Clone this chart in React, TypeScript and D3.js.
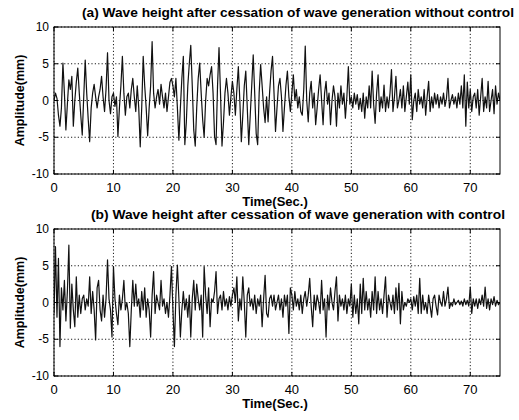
import React from "react";
import * as d3 from "d3";

// sampling interval of the recorded wave (seconds)
const TIME_STEP = 0.25;

// (a) wave height without control, mm, one value every 0.25 s (rows = 5 s)
const waveNoControl = [
  0.0, 1.0, 0.3, -2.0, -3.5, -1.0, 5.1, 1.0, -4.0, -0.5, 2.8, 1.5, 3.3, -3.5, 0.0, 2.5, 4.4, 1.0, -2.0, -4.7,
  0.5, 5.5, 1.0, -2.5, -5.6, -1.0, 1.0, 2.2, 0.5, -1.0, 0.5, 1.5, 3.3, 0.5, -1.5, 1.5, 6.5, 0.0, -1.8, 0.5,
  1.0, -0.8, 0.5, -4.9, -1.0, 2.0, 6.0, 1.0, -2.0, 0.5, 1.0, -1.0, 1.5, 3.0, 0.5, -1.5, 2.0, -1.0, -6.3, -1.0,
  6.0, 2.0, -1.0, -4.8, -1.0, 2.0, 8.0, 1.0, -1.0, 0.5, 1.5, -0.5, 2.2, 0.5, -1.0, 1.0, -1.5, 0.5, 2.5, 3.0,
  2.0, 0.5, 3.0, -1.0, -5.4, -1.0, 3.0, 6.0, -6.0, -3.0, 2.0, 5.0, 7.5, 2.0, -4.0, -6.2, -1.0, 3.0, 5.1, 1.0,
  -2.6, -5.0, 0.0, 3.0, 2.0, 3.5, 4.6, 1.0, -4.9, -6.0, 2.0, 7.2, 1.0, -6.2, -3.0, 1.0, 3.0, 1.0, -2.0, 0.5,
  2.6, 1.0, -2.0, 1.5, 4.6, 0.0, -5.6, -2.0, 2.0, 4.0, -1.0, -6.0, -2.0, 2.0, 6.2, 1.0, -4.5, -6.0, 1.0, 4.9,
  2.0, -1.0, -3.0, 0.5, -2.9, 1.0, 4.0, 6.0, 1.0, -4.2, -1.0, 2.0, 3.0, 0.5, -4.2, -1.0, 2.0, 4.0, 0.5, -1.5,
  1.0, 3.5, 0.0, 1.5, -1.0, 0.5, -1.5, -2.0, 1.5, 7.4, 0.0, -2.9, 1.0, 2.6, -1.0, 1.0, -3.3, -1.0, 1.5, 3.5,
  0.0, -3.3, 1.0, 2.6, -0.5, 1.0, -3.3, 0.0, 2.0, 0.5, -3.5, 1.0, -1.0, 2.0, -0.5, 1.0, -2.4, 0.5, 4.6, -0.5,
  0.5, -1.0, 1.0, -0.5, 0.8, -1.2, 0.3, -1.5, 1.0, -2.4, 0.5, -1.0, 2.0, -1.0, 4.0, -0.5, -3.1, 1.0, 3.5, -1.5,
  0.5, -1.0, 2.1, -1.5, 0.5, -1.0, 1.0, 4.2, -1.5, 0.5, 3.3, -1.0, 0.0, 1.5, -1.0, 2.0, -1.5, 0.5, 2.5, -0.5,
  3.5, -2.6, 0.0, 1.0, -1.5, 1.5, -0.5, 0.5, -1.0, 1.5, -2.0, 0.5, 2.6, -1.5, 0.5, -1.0, 1.0, -0.5, 0.8, -1.0,
  0.5, -0.5, 1.0, -0.8, 0.3, 3.0, -1.0, 0.0, 0.8, -0.5, 0.5, -1.0, 1.0, -0.5, 2.0, -1.0, 3.5, -3.5, 2.5, -1.0,
  1.5, -1.5, 0.5, 1.0, -1.0, 1.5, -2.0, 0.5, 3.0, -1.5, 0.5, -1.0, 2.6, -1.5, 0.0, 1.5, -1.8, 2.0, -0.5, 1.0,
  0.0,
];

// (b) wave height with control, mm, one value every 0.25 s (rows = 5 s)
const waveWithControl = [
  -1.5, 7.6, -2.0, 6.0, -6.0, 2.0, -1.0, 3.0, -2.5, 1.5, 7.8, -3.5, 2.5, -1.0, -3.3, 3.5, -2.0, 1.0, -1.5, 0.5,
  1.0, -1.0, 0.5, -0.5, 3.5, -1.5, 1.5, -1.0, -5.1, 2.0, 3.0, -1.0, -2.5, 1.0, -2.0, 0.5, 5.8, 0.5, -1.0, -4.7,
  4.9, 0.5, -1.5, -3.0, 1.0, -1.0, 0.5, 3.0, -1.0, 0.0, -1.5, -6.0, -1.0, 3.0, -0.5, 2.5, -0.5, 0.5, -2.0, 1.5,
  -1.0, 2.0, -2.0, 0.5, -1.0, -4.7, 1.0, 4.2, -1.5, 1.0, 0.0, -1.0, 3.0, -0.5, 0.5, -1.5, 0.0, -2.0, 1.0, 4.9,
  -1.0, -6.0, 1.0, 5.1, 0.5, -4.7, -1.0, 1.5, -1.0, 0.5, -2.0, 1.0, -4.7, 0.5, 3.0, -1.0, 2.5, 0.5, -1.0, 1.0,
  -4.7, 4.9, 1.0, -1.5, 2.0, -3.3, 0.5, 0.0, 1.5, 4.2, -1.5, 0.5, 1.0, -1.0, 1.5, -0.5, 0.5, -1.0, 0.8, -0.5,
  1.0, 2.0, 0.0, 3.5, -2.5, 0.5, -1.0, 3.5, 0.0, -4.7, 1.0, 2.0, -0.5, 0.5, -1.0, 1.0, -1.5, 0.5, -0.5, 1.0,
  -3.3, 0.5, 3.7, -1.5, -2.0, 0.5, 1.0, -0.5, 1.0, -1.0, 0.0, 1.0, -1.0, 0.5, -2.0, 1.0, -0.5, 1.0, -4.2, 2.0,
  1.0, -1.0, 1.5, -0.5, 0.5, -1.0, 1.0, -1.5, 0.5, 1.5, -0.5, 1.0, 3.3, -0.5, -3.3, 1.0, -1.0, 1.0, 0.0, -1.5,
  3.0, -1.0, 0.5, -4.7, 1.0, -1.0, 2.0, 0.0, -1.0, 1.5, 3.5, -2.5, 1.0, -0.5, 0.5, -1.0, 1.0, -1.5, 0.5, -0.5,
  2.5, -2.0, 1.0, -1.5, 0.5, -2.9, 2.5, -1.5, 3.3, -1.0, 1.5, -1.0, 0.5, -2.0, 1.5, -1.0, 3.5, -1.5, 1.5, -1.0,
  0.5, -1.5, 1.0, 3.5, -2.0, 1.0, 0.0, -1.0, 1.0, -1.5, 2.0, -1.0, 2.6, -2.9, 1.5, -1.0, 0.0, -0.5, 0.5, 0.0,
  0.5, -1.0, 0.8, -0.5, 1.0, -1.5, 3.3, -1.5, 1.0, -1.0, 0.0, -1.5, 1.0, -0.5, -2.0, 0.5, 1.0, -0.5, -1.7, 1.0,
  0.0, -0.5, 1.5, -0.5, 0.5, 2.1, -0.8, 0.0, -0.5, 0.5, -0.3, 0.0, 0.3, -0.3, 0.2, -0.5, 0.5, -0.3, 0.3, -0.5,
  2.1, -1.5, 0.5, -0.5, 0.5, -0.8, 0.5, -0.3, 1.0, -0.5, 2.1, -0.8, 0.5, -1.0, 0.5, -0.3, 0.8, -0.5, 0.3, -0.3,
  0.0,
];

const xTickValues = [0, 10, 20, 30, 40, 50, 60, 70];
const yTickValues = [-10, -5, 0, 5, 10];
const xDomain = [0, 75];
const yDomain = [-10, 10];

const titleA = "(a) Wave height after cessation of wave generation without control";
const titleB = "(b) Wave height after cessation of wave generation with control";
const xLabelText = "Time(Sec.)";
const yLabelText = "Amplitude(mm)";

const W = 519;
const H = 420;
const PLOT_LEFT = 54;
const PLOT_RIGHT = 500;
const FONT = "'Liberation Sans', Arial, Helvetica, sans-serif";

type PanelProps = {
  id: string;
  top: number;
  bottom: number;
  title: string;
  titleX: number;
  titleW: number;
  titleY: number;
  values: number[];
};

function Panel({ id, top, bottom, title, titleX, titleW, titleY, values }: PanelProps) {
  const x = d3.scaleLinear().domain(xDomain).range([PLOT_LEFT, PLOT_RIGHT]);
  const y = d3.scaleLinear().domain(yDomain).range([bottom, top]);
  const line = d3
    .line<number>()
    .x((_, i) => x(i * TIME_STEP))
    .y((d) => y(d));
  const tickLen = 4;
  const midY = (top + bottom) / 2;
  return (
    <g>
      <defs>
        <clipPath id={`clip-${id}`}>
          <rect x={PLOT_LEFT} y={top} width={PLOT_RIGHT - PLOT_LEFT} height={bottom - top} />
        </clipPath>
      </defs>
      <rect x={PLOT_LEFT} y={top} width={PLOT_RIGHT - PLOT_LEFT} height={bottom - top} fill="#fff" />
      {/* grid */}
      {xTickValues.map((t) => (
        <line key={`gx${t}`} x1={x(t)} x2={x(t)} y1={top} y2={bottom} stroke="#000" strokeWidth={0.9} strokeDasharray="1.2,2.2" />
      ))}
      {yTickValues.map((t) => (
        <line key={`gy${t}`} x1={PLOT_LEFT} x2={PLOT_RIGHT} y1={y(t)} y2={y(t)} stroke="#000" strokeWidth={0.9} strokeDasharray="1.2,2.2" />
      ))}
      {/* signal */}
      <path d={line(values) || ""} fill="none" stroke="#111" strokeWidth={1.2} strokeLinejoin="round" clipPath={`url(#clip-${id})`} />
      {/* ticks */}
      {xTickValues.map((t) => (
        <g key={`tx${t}`}>
          <line x1={x(t)} x2={x(t)} y1={bottom} y2={bottom - tickLen} stroke="#000" />
          <line x1={x(t)} x2={x(t)} y1={top} y2={top + tickLen} stroke="#000" />
        </g>
      ))}
      {yTickValues.map((t) => (
        <g key={`ty${t}`}>
          <line x1={PLOT_LEFT} x2={PLOT_LEFT + tickLen} y1={y(t)} y2={y(t)} stroke="#000" />
          <line x1={PLOT_RIGHT} x2={PLOT_RIGHT - tickLen} y1={y(t)} y2={y(t)} stroke="#000" />
        </g>
      ))}
      {/* box */}
      <rect x={PLOT_LEFT} y={top} width={PLOT_RIGHT - PLOT_LEFT} height={bottom - top} fill="none" stroke="#000" strokeWidth={1} />
      {/* tick labels */}
      {xTickValues.map((t) => (
        <text key={`lx${t}`} x={x(t)} y={bottom + 18} textAnchor="middle" fontFamily={FONT} fontSize={13} fill="#000">
          {t}
        </text>
      ))}
      {yTickValues.map((t) => (
        <text key={`ly${t}`} x={PLOT_LEFT - 5} y={y(t) + 4} textAnchor="end" fontFamily={FONT} fontSize={12} fill="#000">
          {t}
        </text>
      ))}
      {/* title */}
      <text
        x={titleX}
        y={titleY}
        textLength={titleW}
        lengthAdjust="spacingAndGlyphs"
        fontFamily={FONT}
        fontSize={12.5}
        fontWeight="bold"
        fill="#000"
      >
        {title}
      </text>
      {/* axis labels */}
      <text x={(PLOT_LEFT + PLOT_RIGHT) / 2 - 2} y={bottom + 32} textAnchor="middle" fontFamily={FONT} fontSize={13} fontWeight="bold" fill="#000">
        {xLabelText}
      </text>
      <text
        transform={`translate(${24},${midY}) rotate(-90)`}
        textAnchor="middle"
        fontFamily={FONT}
        fontSize={12.5}
        fontWeight="bold"
        fill="#000"
      >
        {yLabelText}
      </text>
    </g>
  );
}

export default function App() {
  return (
    <svg
      width={W}
      height={H}
      viewBox={`0 0 ${W} ${H}`}
      style={{ position: "absolute", left: 0, top: 0, background: "#fff" }}
    >
      <rect x={0} y={0} width={W} height={H} fill="#fff" />
      <Panel id="a" top={27} bottom={174} title={titleA} titleX={82} titleW={432} titleY={17} values={waveNoControl} />
      <Panel id="b" top={229} bottom={376} title={titleB} titleX={91} titleW={414} titleY={219} values={waveWithControl} />
    </svg>
  );
}
